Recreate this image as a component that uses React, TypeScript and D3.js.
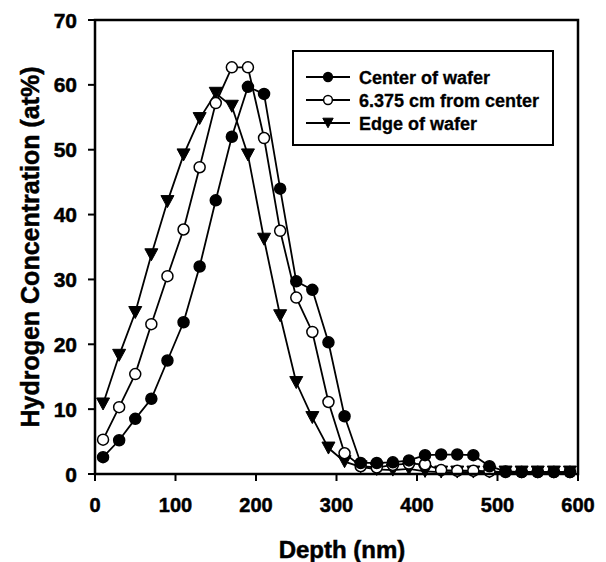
import React from "react";
import * as d3 from "d3";

const depth = [10, 30, 50, 70, 90, 110, 130, 150, 170, 190, 210, 230, 250, 270, 290, 310, 330, 350, 370, 390, 410, 430, 450, 470, 490, 510, 530, 550, 570, 590];
const centerOfWafer = [2.6, 5.2, 8.5, 11.6, 17.5, 23.4, 32.0, 42.2, 52.0, 59.7, 58.6, 44.0, 29.7, 28.4, 20.3, 8.9, 1.7, 1.7, 1.8, 2.1, 2.9, 3.0, 3.0, 2.9, 1.2, 0.4, 0.3, 0.3, 0.3, 0.3];
const fromCenter = [5.3, 10.3, 15.4, 23.1, 30.5, 37.7, 47.3, 57.2, 62.7, 62.7, 51.8, 37.5, 27.2, 21.9, 11.1, 3.2, 1.2, 1.0, 1.4, 1.6, 1.5, 0.6, 0.5, 0.5, 0.4, 0.3, 0.3, 0.3, 0.3, 0.3];
const edgeOfWafer = [10.8, 18.3, 24.9, 33.8, 42.0, 49.2, 54.8, 58.7, 56.7, 49.2, 36.2, 24.4, 14.1, 8.7, 4.0, 1.9, 1.1, 0.7, 0.6, 0.8, 0.4, 0.3, 0.3, 0.3, 0.3, 0.3, 0.3, 0.3, 0.3, 0.3];
const seriesNames = ["Center of wafer", "6.375 cm from center", "Edge of wafer"];
const xTicks = [0, 100, 200, 300, 400, 500, 600];
const yTicks = [0, 10, 20, 30, 40, 50, 60, 70];

const FONT = "'Liberation Sans', Arial, sans-serif";

type Kind = "filled" | "open" | "tri";

function Marker({ x, y, kind, s = 1 }: { x: number; y: number; kind: Kind; s?: number }) {
  if (kind === "tri") {
    const w = 6.5 * s, h = 6 * s;
    return <path d={`M${x - w},${y - h}L${x + w},${y - h}L${x},${y + h}Z`} fill="#000" stroke="#000" strokeWidth={1} />;
  }
  return <circle cx={x} cy={y} r={5.5 * s} fill={kind === "filled" ? "#000" : "#fff"} stroke="#000" strokeWidth={1.5} />;
}

export default function App() {
  const W = 606, H = 562;
  const x = d3.scaleLinear().domain([0, 600]).range([95, 578]);
  const y = d3.scaleLinear().domain([0, 70]).range([474, 20]);
  const series: { vals: number[]; kind: Kind }[] = [
    { vals: centerOfWafer, kind: "filled" },
    { vals: fromCenter, kind: "open" },
    { vals: edgeOfWafer, kind: "tri" },
  ];
  const line = d3.line<number>().x((_, i) => x(depth[i])).y((v) => y(v));
  const order = [2, 1, 0];
  const legendY = [77, 100, 123];
  const txt = { fontWeight: "bold" as const, stroke: "#000", strokeWidth: 0.5 };
  return (
    <svg width={W} height={H} style={{ position: "absolute", left: 0, top: 0, background: "#fff" }} fontFamily={FONT}>
      <rect x={0} y={0} width={W} height={H} fill="#fff" />
      {order.map((si) => (
        <path key={"l" + si} d={line(series[si].vals) || ""} fill="none" stroke="#000" strokeWidth={1.8} />
      ))}
      {order.map((si) =>
        series[si].vals.map((v, i) => <Marker key={si + "-" + i} x={x(depth[i])} y={y(v)} kind={series[si].kind} />)
      )}
      <rect x={x(0)} y={y(70)} width={x(600) - x(0)} height={y(0) - y(70)} fill="none" stroke="#000" strokeWidth={2.5} />
      {yTicks.map((t) => (
        <g key={"y" + t}>
          <line x1={x(0) - 7} x2={x(0)} y1={y(t)} y2={y(t)} stroke="#000" strokeWidth={2} />
          <text x={77} y={y(t) + 7.5} textAnchor="end" fontSize={21} {...txt}>{t}</text>
        </g>
      ))}
      {xTicks.map((t) => (
        <g key={"x" + t}>
          <line x1={x(t)} x2={x(t)} y1={y(0)} y2={y(0) + 7} stroke="#000" strokeWidth={2} />
          <text x={x(t)} y={512} textAnchor="middle" fontSize={20} {...txt}>{t}</text>
        </g>
      ))}
      <text x={342} y={558} textAnchor="middle" fontSize={24} {...txt}>Depth (nm)</text>
      <text transform={`translate(39,247) rotate(-90)`} textAnchor="middle" fontSize={25} {...txt}>Hydrogen Concentration (at%)</text>
      <rect x={293} y={51} width={260} height={94} fill="#fff" stroke="#000" strokeWidth={2} />
      {series.map((s, i) => (
        <g key={"lg" + i}>
          <line x1={306} x2={350} y1={legendY[i]} y2={legendY[i]} stroke="#000" strokeWidth={1.8} />
          <Marker x={328} y={legendY[i]} kind={s.kind} s={0.8} />
          <text x={359} y={legendY[i] + 6.5} fontSize={18} {...txt} strokeWidth={0.3}>{seriesNames[i]}</text>
        </g>
      ))}
    </svg>
  );
}
